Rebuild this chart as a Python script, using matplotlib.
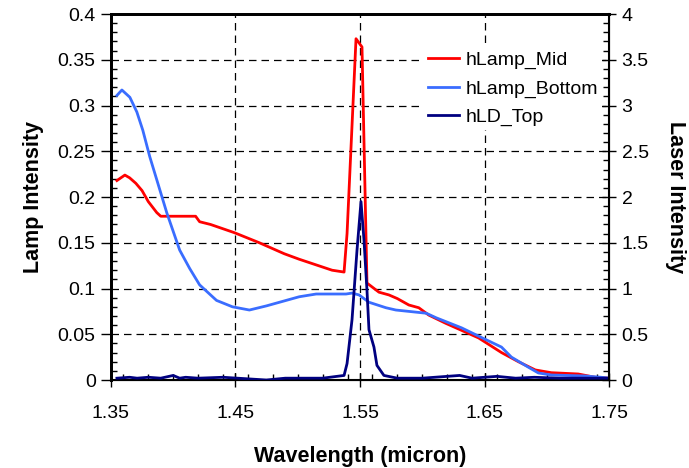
import matplotlib
matplotlib.use('Agg')
import matplotlib.pyplot as plt
from matplotlib.ticker import MultipleLocator
import numpy as np

plt.rcParams['font.family'] = ['Liberation Sans', 'DejaVu Sans']

# hLamp_Mid (left axis)
mid_x = [1.3548, 1.3612, 1.365, 1.370, 1.375, 1.380, 1.3868, 1.390, 1.418, 1.4212, 1.430, 1.4492,
         1.4692, 1.4892, 1.5012, 1.5276, 1.5372, 1.5396, 1.5468, 1.5516, 1.5556, 1.5652, 1.5732,
         1.580, 1.5892, 1.5972, 1.6052, 1.6188, 1.6452, 1.6636, 1.6772, 1.6908, 1.7036, 1.7252,
         1.7388, 1.75]
mid_y = [0.218, 0.224, 0.221, 0.215, 0.207, 0.195, 0.183, 0.179, 0.179, 0.173, 0.170, 0.161,
         0.150, 0.138, 0.132, 0.120, 0.118, 0.160, 0.373, 0.364, 0.106, 0.096, 0.093,
         0.089, 0.082, 0.079, 0.071, 0.062, 0.046, 0.030, 0.020, 0.011, 0.008, 0.0066,
         0.003, 0.002]

# hLamp_Bottom (left axis)
bot_x = [1.3548, 1.3588, 1.3652, 1.3708, 1.3756, 1.3812, 1.3908, 1.3948, 1.4052, 1.4132, 1.4212,
         1.4348, 1.4476, 1.4612, 1.4748, 1.5012, 1.5148, 1.5388, 1.5436, 1.5492, 1.5572, 1.5708,
         1.5788, 1.6032, 1.6112, 1.6316, 1.6452, 1.6636, 1.6716, 1.6852, 1.6932, 1.7036, 1.7308,
         1.7436, 1.75]
bot_y = [0.311, 0.317, 0.309, 0.293, 0.273, 0.244, 0.201, 0.183, 0.142, 0.122, 0.104,
         0.087, 0.080, 0.0765, 0.081, 0.091, 0.094, 0.094, 0.095, 0.093, 0.085, 0.079,
         0.0765, 0.073, 0.068, 0.057, 0.048, 0.036, 0.025, 0.014, 0.0077, 0.0055, 0.0044,
         0.003, 0.002]

# hLD_Top (right axis)
ld_x = [1.3548, 1.365, 1.371, 1.380, 1.390, 1.400, 1.4052, 1.410, 1.420, 1.440, 1.4748, 1.490,
        1.520, 1.5372, 1.5396, 1.5436, 1.5476, 1.5508, 1.5532, 1.5556, 1.5572, 1.5612, 1.5636,
        1.5692, 1.580, 1.600, 1.620, 1.630, 1.640, 1.660, 1.675, 1.690, 1.710, 1.730, 1.75]
ld_y = [0.02, 0.03, 0.02, 0.03, 0.02, 0.05, 0.02, 0.03, 0.02, 0.03, 0.0, 0.02,
        0.02, 0.05, 0.18, 0.66, 1.42, 1.95, 1.53, 0.98, 0.55, 0.36, 0.16,
        0.05, 0.02, 0.02, 0.04, 0.05, 0.02, 0.04, 0.02, 0.03, 0.02, 0.02, 0.02]

fig = plt.figure(figsize=(6.89, 4.68), dpi=100)
ax = fig.add_axes([0.161, 0.188, 0.723, 0.782])
ax2 = ax.twinx()

l1, = ax.plot(mid_x, mid_y, color='#ff0000', lw=2, label='hLamp_Mid')
l2, = ax.plot(bot_x, bot_y, color='#3a6dff', lw=2, label='hLamp_Bottom')
l3, = ax2.plot(ld_x, ld_y, color='#000080', lw=2, label='hLD_Top')

ax.set_xlim(1.35, 1.75)
ax.set_ylim(0, 0.4)
ax2.set_ylim(0, 4)
ax.set_xticks([1.35, 1.45, 1.55, 1.65, 1.75])
ax.set_xticklabels(['1.35', '1.45', '1.55', '1.65', '1.75'])
ax.xaxis.set_minor_locator(MultipleLocator(0.02))
ax.set_yticks(np.arange(0, 0.41, 0.05))
ax.set_yticklabels(['0', '0.05', '0.1', '0.15', '0.2', '0.25', '0.3', '0.35', '0.4'])
ax.yaxis.set_minor_locator(MultipleLocator(0.01))
ax2.set_yticks(np.arange(0, 4.1, 0.5))
ax2.set_yticklabels(['0', '0.5', '1', '1.5', '2', '2.5', '3', '3.5', '4'])
ax2.yaxis.set_minor_locator(MultipleLocator(0.1))

# dashed grid, skipping the edges
for gx in [1.45, 1.55, 1.65]:
    ax.axvline(gx, color='black', lw=0.9, ls=(0, (6, 4)), zorder=0.5)
for gy in np.arange(0.05, 0.4, 0.05):
    ax.axhline(gy, color='black', lw=0.9, ls=(0, (6, 4)), zorder=0.5)

ax.tick_params(axis='x', which='major', direction='inout', length=10, width=1, labelsize=14, pad=13)
ax.tick_params(axis='x', which='minor', direction='in', length=4, width=1)
ax.tick_params(axis='y', which='major', direction='out', length=7, width=1, labelsize=14, pad=4)
ax.tick_params(axis='y', which='minor', direction='in', length=4, width=1)
ax2.tick_params(axis='y', which='major', direction='inout', length=10, width=1, labelsize=14, pad=4)
ax2.tick_params(axis='y', which='minor', direction='in', length=4, width=1)

for sp in ['left', 'top']:
    ax.spines[sp].set_linewidth(2)
ax.spines['bottom'].set_linewidth(1.5)
ax2.spines['right'].set_linewidth(1.5)
ax2.spines['left'].set_linewidth(2)
ax2.spines['top'].set_linewidth(2)

ax.set_xlabel('Wavelength (micron)', fontsize=15.5, fontweight='bold', labelpad=17)
ax.set_ylabel('Lamp Intensity', fontsize=15.5, fontweight='bold', labelpad=10)
ax2.set_ylabel('Laser Intensity', fontsize=15.5, fontweight='bold', rotation=270, labelpad=27)

leg = ax2.legend(handles=[l1, l2, l3], loc='upper right', bbox_to_anchor=(1.005, 0.935),
                 fontsize=14, frameon=True, fancybox=False, framealpha=1,
                 handlelength=1.6, handletextpad=0.35, labelspacing=0.55, borderpad=0.2)
leg.get_frame().set_edgecolor('none')

fig.savefig('out.png', dpi=100)
